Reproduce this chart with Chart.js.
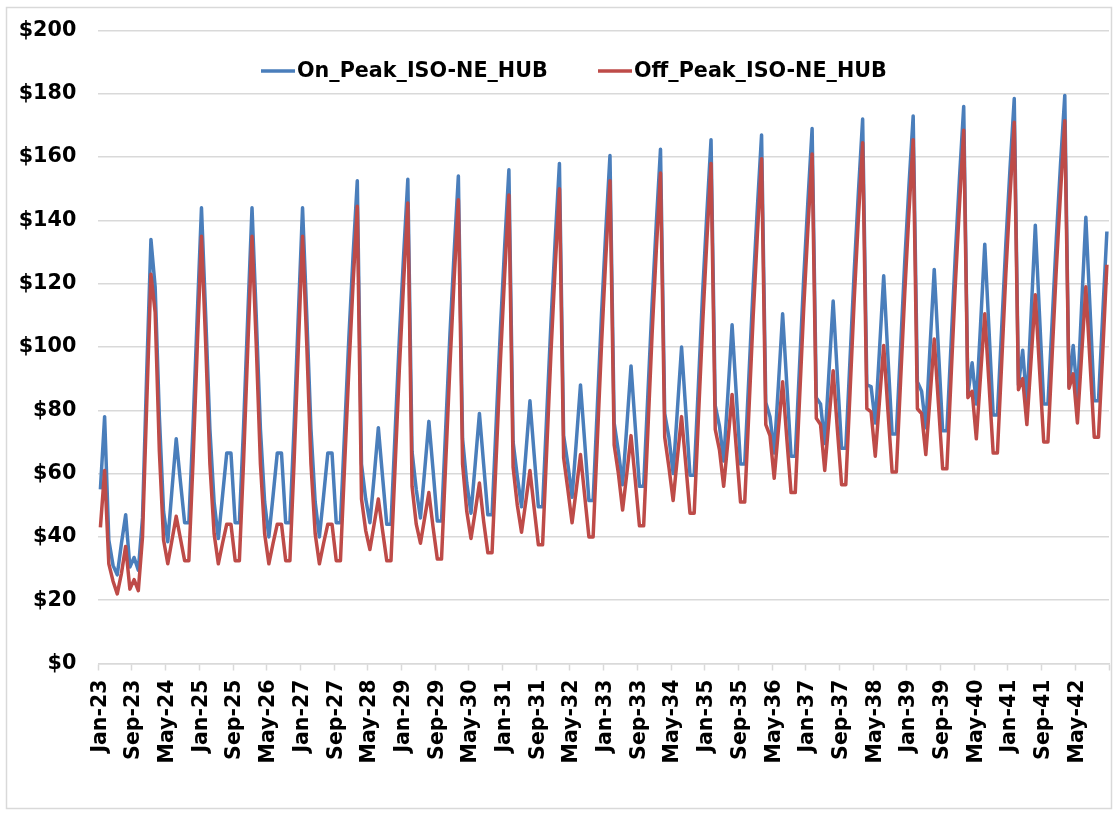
<!DOCTYPE html>
<html>
<head>
<meta charset="utf-8">
<title>ISO-NE Hub monthly prices</title>
<script src="https://cdn.jsdelivr.net/npm/chart.js@4.4.1/dist/chart.umd.min.js"></script>
<style>
  html, body { margin: 0; padding: 0; background: #ffffff; }
  #wrap { position: relative; width: 1118px; height: 815px; }
</style>
</head>
<body>
<div id="wrap"><canvas id="chart"></canvas></div>
<script>
// ---- data -------------------------------------------------------------
const monthNames = ['Jan', 'Feb', 'Mar', 'Apr', 'May', 'Jun', 'Jul', 'Aug', 'Sep', 'Oct', 'Nov', 'Dec'];
const yearSuffixes = ['23', '24', '25', '26', '27', '28', '29', '30', '31', '32',
                      '33', '34', '35', '36', '37', '38', '39', '40', '41', '42'];

const seriesNames = ['On_Peak_ISO-NE_HUB', 'Off_Peak_ISO-NE_HUB'];

// $/MWh, one row per year (Jan..Dec)
const onPeak = [
  55, 78, 39, 31, 28, 38, 47, 30.5, 33.5, 29.5, 46, 92,          // 2023
  134, 119, 78, 48, 38.5, 55, 71, 57.5, 44.5, 44.5, 75, 110,     // 2024
  144, 110, 74, 51, 39.5, 53, 66.5, 66.5, 44.5, 44.5, 75, 110,   // 2025
  144, 110, 74, 51, 40, 53, 66.5, 66.5, 44.5, 44.5, 75, 110,     // 2026
  144, 110, 74, 51, 40, 53, 66.5, 66.5, 44.5, 44.5, 73.5, 103,   // 2027
  129, 152.5, 63, 52, 44.5, 59, 74.5, 59, 44, 44, 73.5, 103,     // 2028
  129, 153, 67, 55, 46, 61, 76.5, 61, 45, 45, 74.5, 104,         // 2029
  130, 154, 71, 57, 47.5, 63, 79, 63, 47, 47, 76.5, 106,         // 2030
  132, 156, 70, 59, 49.5, 66, 83, 66, 49.5, 49.5, 79, 108,       // 2031
  134, 158, 72, 63, 52.5, 70, 88, 70, 51.5, 51.5, 81, 110.5,     // 2032
  136.5, 160.5, 76, 67, 56.5, 75, 94, 75, 56, 56, 85, 113.5,     // 2033
  139, 162.5, 79, 71.5, 60, 80, 100, 80, 59.5, 59.5, 88, 117,    // 2034
  142, 165.5, 81.5, 75, 64, 85, 107, 85, 63, 63, 91, 119,        // 2035
  144, 167, 82.5, 78, 66.5, 88, 110.5, 88, 65.5, 65.5, 93.5, 121.5, // 2036
  146, 169, 84, 82, 69.5, 92, 114.5, 91, 68, 68, 96, 124,        // 2037
  149, 172, 88, 87.5, 76, 99, 122.5, 97, 72.5, 72.5, 99.5, 127,  // 2038
  151, 173, 89, 86, 74.5, 100, 124.5, 99, 73.5, 73.5, 101, 129,  // 2039
  153.5, 176, 85, 95, 82, 107, 132.5, 105.5, 78.5, 78.5, 105.5, 132.5, // 2040
  156.5, 178.5, 88, 99, 82, 110, 138.5, 110, 82, 82, 108, 134.5, // 2041
  158, 179.5, 87.5, 100.5, 84, 113, 141, 112, 83, 83, 110, 136.5 // 2042
];

const offPeak = [
  43, 61, 31.5, 26, 22, 28.5, 37, 23.5, 26.5, 23, 40, 82,        // 2023
  123, 111, 67, 39, 31.5, 39, 46.5, 39.5, 32.5, 32.5, 64, 100,   // 2024
  135, 101, 63, 41, 31.5, 38, 44, 44, 32.5, 32.5, 64, 100,       // 2025
  135, 101, 63, 41, 31.5, 38, 44, 44, 32.5, 32.5, 64, 100,       // 2026
  135, 101, 63, 41, 31.5, 38, 44, 44, 32.5, 32.5, 63, 93,        // 2027
  120, 144.5, 52, 42, 36, 44, 52, 42, 32.5, 32.5, 63, 93.5,      // 2028
  120.5, 145.5, 56, 44, 38, 46, 54, 43, 33, 33, 63.5, 94,        // 2029
  121.5, 146.5, 63, 48, 39.5, 48, 57, 45, 35, 35, 65.5, 96,      // 2030
  123, 148, 62, 50, 41.5, 51, 61, 49, 37.5, 37.5, 68, 98.5,      // 2031
  125.5, 150, 65, 55, 44.5, 55, 66, 53, 40, 40, 70.5, 101,       // 2032
  128, 152.5, 69, 60, 48.5, 60, 72, 58, 43.5, 43.5, 73.5, 104,   // 2033
  130.5, 155, 71.5, 62, 51.5, 65, 78, 63, 47.5, 47.5, 77.5, 107, // 2034
  133.5, 158, 74, 67.5, 56, 70, 85, 68, 51, 51, 80, 109.5,       // 2035
  135.5, 159.5, 75.5, 72, 58.5, 74, 89, 71, 54, 54, 83, 112,     // 2036
  137.5, 161, 77.5, 75.5, 61, 77, 92.5, 74, 56.5, 56.5, 85.5, 115, // 2037
  141, 164.5, 80.5, 79.5, 65.5, 83, 100.5, 80, 60.5, 60.5, 89, 117, // 2038
  142.5, 165.5, 80.5, 79, 66, 84, 102.5, 82, 61.5, 61.5, 90.5, 119.5, // 2039
  145, 168.5, 84, 86, 71, 91, 110.5, 88.5, 66.5, 66.5, 94.5, 123, // 2040
  148, 171, 86.5, 90, 75.5, 96, 116.5, 93, 70, 70, 97.5, 125,    // 2041
  149, 171.5, 87, 91.5, 76, 97.5, 119, 95, 71.5, 71.5, 98, 126   // 2042
];

const yTickValues = [0, 20, 40, 60, 80, 100, 120, 140, 160, 180, 200];
const xLabelEvery = 8;   // a date label every 8th month

// month categories "Jan-23" ... "Dec-42"
const categories = [];
for (const yy of yearSuffixes) {
  for (const mm of monthNames) categories.push(mm + '-' + yy);
}

// ---- styling ----------------------------------------------------------
const FONT = "'DejaVu Sans', 'Liberation Sans', sans-serif";
const GRID = '#d9d9d9';
const BLUE = '#4a7ebb';
const RED = '#be4b48';

// light outer frame of the chart
const framePlugin = {
  id: 'frame',
  beforeDraw(chart) {
    const ctx = chart.ctx;
    ctx.save();
    ctx.fillStyle = '#ffffff';
    ctx.fillRect(0, 0, chart.width, chart.height);
    ctx.strokeStyle = GRID;
    ctx.lineWidth = 1.5;
    ctx.strokeRect(6.5, 7.5, 1105, 801);
    ctx.restore();
  }
};

// series key drawn inside the plot, under the top gridline
const keyPlugin = {
  id: 'seriesKey',
  afterDatasetsDraw(chart) {
    const ctx = chart.ctx;
    const starts = [261, 598];
    const y = 71;
    ctx.save();
    ctx.font = 'bold 20.7px ' + FONT;
    ctx.textBaseline = 'middle';
    ctx.textAlign = 'left';
    chart.data.datasets.forEach((ds, i) => {
      const x = starts[i];
      ctx.strokeStyle = ds.borderColor;
      ctx.lineWidth = 3.5;
      ctx.lineCap = 'butt';
      ctx.beginPath();
      ctx.moveTo(x, y);
      ctx.lineTo(x + 34, y);
      ctx.stroke();
      ctx.fillStyle = '#000000';
      ctx.fillText(ds.label, x + 36, y + 1);
    });
    ctx.restore();
  }
};

new Chart(document.getElementById('chart'), {
  type: 'line',
  data: {
    labels: categories,
    datasets: [
      {
        label: seriesNames[0],
        data: onPeak,
        borderColor: BLUE,
        backgroundColor: BLUE,
        borderWidth: 3.5,
        pointRadius: 0,
        tension: 0,
        borderJoinStyle: 'round',
        order: 1
      },
      {
        label: seriesNames[1],
        data: offPeak,
        borderColor: RED,
        backgroundColor: RED,
        borderWidth: 3.5,
        pointRadius: 0,
        tension: 0,
        borderJoinStyle: 'round',
        order: 0
      }
    ]
  },
  options: {
    responsive: true,
    maintainAspectRatio: false,
    animation: false,
    events: [],
    layout: { padding: { left: 0, right: 9, top: 30.5, bottom: 0 } },
    plugins: {
      legend: { display: false },
      tooltip: { enabled: false },
      title: { display: false }
    },
    scales: {
      x: {
        type: 'category',
        offset: true,
        afterFit(scale) {
          scale.height = 151.5;
          scale.paddingLeft = 0;
          scale.paddingRight = 0;
        },
        border: { display: true, color: GRID, width: 1.5 },
        grid: {
          offset: true,
          drawOnChartArea: false,
          drawTicks: true,
          tickLength: 7,
          tickWidth: 1.5,
          color: GRID,
          tickColor: (c) => (c.type === 'scale' || c.index % xLabelEvery === 0) ? GRID : 'rgba(0,0,0,0)'
        },
        ticks: {
          autoSkip: false,
          minRotation: 90,
          maxRotation: 90,
          padding: 9,
          color: '#000000',
          font: { family: FONT, size: 20.5, weight: 'bold' },
          callback: (value, index) => (index % xLabelEvery === 0 ? categories[index] : '')
        }
      },
      y: {
        min: yTickValues[0],
        max: yTickValues[yTickValues.length - 1],
        afterFit(scale) {
          scale.width = 98.3;
          scale.paddingTop = 0;
          scale.paddingBottom = 0;
        },
        afterBuildTicks(scale) { scale.ticks = yTickValues.map(v => ({ value: v })); },
        border: { display: false },
        grid: { color: GRID, lineWidth: 1.5, drawTicks: false },
        ticks: {
          padding: 22,
          color: '#000000',
          font: { family: FONT, size: 20.7, weight: 'bold' },
          callback: (value) => '$' + value
        }
      }
    }
  },
  plugins: [framePlugin, keyPlugin]
});
</script>
</body>
</html>
